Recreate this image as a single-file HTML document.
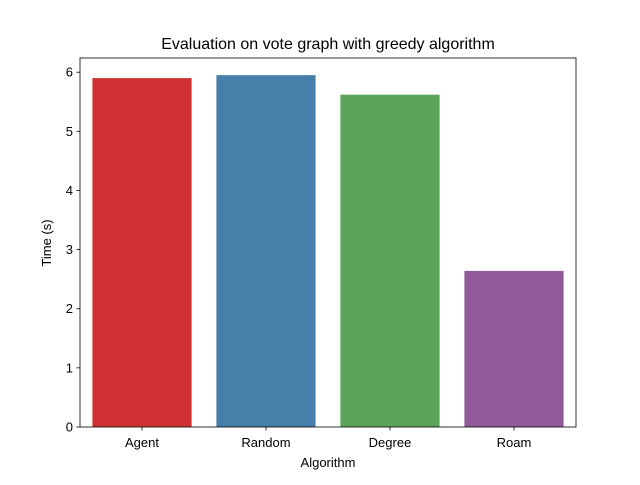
<!DOCTYPE html>
<html><head><meta charset="utf-8"><style>
body{margin:0;background:#fff;}
svg text{font-family:"Liberation Sans","DejaVu Sans",sans-serif;}
</style></head><body>
<svg id="chart" width="640" height="480" xmlns="http://www.w3.org/2000/svg">
<rect width="640" height="480" fill="#fff"/>
<g id="marks"></g>
<text x="328" y="49" font-size="16" text-anchor="middle">Evaluation on vote graph with greedy algorithm</text>
<text x="328" y="467" font-size="13" text-anchor="middle">Algorithm</text>
<text x="0" y="0" font-size="13" text-anchor="middle" transform="translate(51,243) rotate(-90)">Time (s)</text>
</svg>
<script>
const categories = ["Agent","Random","Degree","Roam"];
const times = [5.9, 5.95, 5.62, 2.64];
const colors = ["#d03234","#477fab","#5aa45a","#915a9a"];
const yTicks = [0,1,2,3,4,5,6];

const L=80,R=576,T=58,B=427,yMax=6.24;
const x = i => L + (i+0.5)*(R-L)/categories.length;
const y = v => B - v/yMax*(B-T);
const bw = (R-L)/categories.length*0.8;
const NS="http://www.w3.org/2000/svg";
const g=document.getElementById('marks');
function mk(tag,attrs){const e=document.createElementNS(NS,tag);for(const k in attrs)e.setAttribute(k,attrs[k]);g.appendChild(e);return e;}
categories.forEach((c,i)=>{
  const r=mk('rect',{x:x(i)-bw/2,y:y(times[i]),width:bw,height:B-y(times[i]),fill:colors[i]});
  
  
  const t=mk('line',{x1:x(i),x2:x(i),y1:B,y2:B+3.5,stroke:'#000','stroke-width':0.8});
  
  
  const l=mk('text',{x:x(i),y:B+20,'font-size':13,'text-anchor':'middle'});
  l.textContent=c;
  
  
});
yTicks.forEach(v=>{
  const t=mk('line',{x1:L-3.5,x2:L,y1:y(v),y2:y(v),stroke:'#000','stroke-width':0.8});
  
  
  const l=mk('text',{x:L-7,y:y(v)+4.5,'font-size':13,'text-anchor':'end'});
  l.textContent=v;
  
  
});
const f=mk('rect',{x:L,y:T,width:R-L,height:B-T,fill:'none',stroke:'#000','stroke-width':0.8});


</script>
</body></html>
